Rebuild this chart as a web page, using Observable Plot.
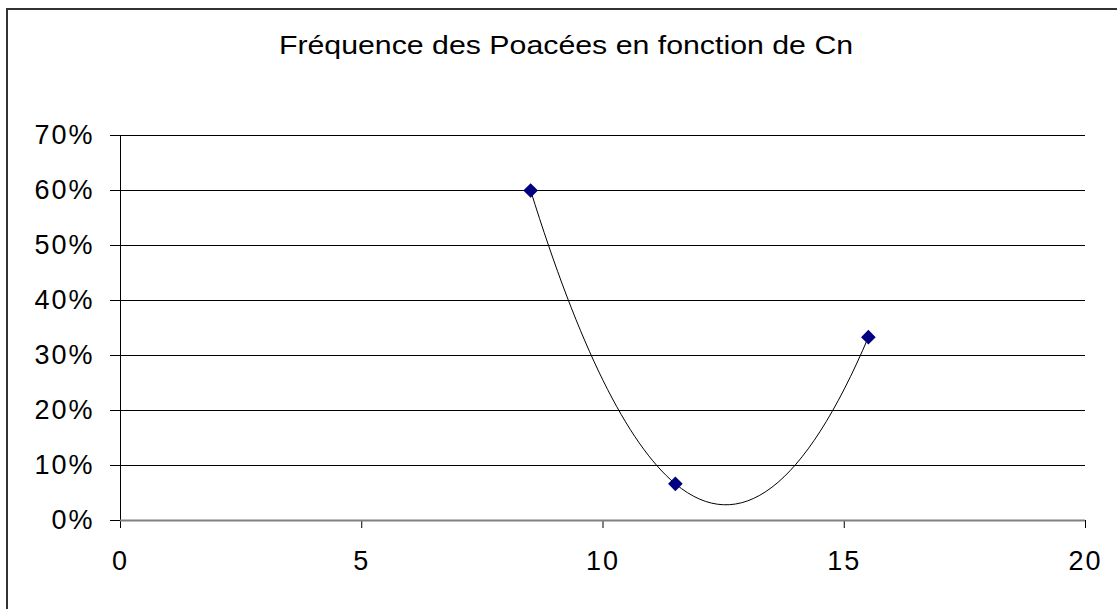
<!DOCTYPE html>
<html>
<head>
<meta charset="utf-8">
<script src="https://cdn.jsdelivr.net/npm/d3@7"></script>
<script src="https://cdn.jsdelivr.net/npm/@observablehq/plot@0.6"></script>
<style>
  html, body { margin: 0; padding: 0; background: #fff; }
  #wrap { position: relative; width: 1117px; height: 609px; overflow: hidden; font-family: "Liberation Sans", Arial, sans-serif; }
  #frame { position: absolute; left: 6px; top: 8px; width: 1120px; height: 620px; border-top: 2px solid #333; border-left: 2px solid #333; box-sizing: border-box; pointer-events: none; }
  #title { position: absolute; top: 30px; left: 566px; transform: translateX(-50%) scaleX(1.165); white-space: nowrap; font-size: 26px; color: #000; }
  #chart { position: absolute; left: 0; top: 0; }
  #chart svg text { letter-spacing: 2px; }
</style>
</head>
<body>
<div id="wrap">
  <div id="chart"></div>
  <div id="frame"></div>
  <div id="title">Fréquence des Poacées en fonction de Cn</div>
</div>
<script>
// Data
const cn = [8.5, 11.5, 15.5];
const frequence = [0.60, 0.0667, 0.3333];
const xTicks = [0, 5, 10, 15, 20];
const yTicks = [0, 0.1, 0.2, 0.3, 0.4, 0.5, 0.6, 0.7];

const points = cn.map((x, i) => ({x, y: frequence[i]}));

// Smooth curve: cubic Hermite segments using parabolic (three-point) slopes
function parabolicCurve(context) {
  let xs = [], ys = [];
  return {
    areaStart() {}, areaEnd() {},
    lineStart() { xs = []; ys = []; },
    point(x, y) { xs.push(+x); ys.push(+y); },
    lineEnd() {
      const n = xs.length;
      if (!n) return;
      context.moveTo(xs[0], ys[0]);
      if (n < 3) { for (let i = 1; i < n; i++) context.lineTo(xs[i], ys[i]); return; }
      const d = xs.map((_, i) => {
        const j = Math.min(Math.max(i - 1, 0), n - 3);
        const x0 = xs[j], x1 = xs[j + 1], x2 = xs[j + 2];
        const y0 = ys[j], y1 = ys[j + 1], y2 = ys[j + 2];
        const a = (y1 - y0) / (x1 - x0), b = (y2 - y1) / (x2 - x1), c = (b - a) / (x2 - x0);
        return a + c * ((xs[i] - x0) + (xs[i] - x1));
      });
      for (let i = 0; i < n - 1; i++) {
        const h = (xs[i + 1] - xs[i]) / 3;
        context.bezierCurveTo(xs[i] + h, ys[i] + d[i] * h, xs[i + 1] - h, ys[i + 1] - d[i + 1] * h, xs[i + 1], ys[i + 1]);
      }
    }
  };
}

const chart = Plot.plot({
  width: 1117,
  height: 609,
  marginLeft: 120,
  marginRight: 32,
  marginTop: 135,
  marginBottom: 89,
  style: { background: "transparent", fontFamily: "'Liberation Sans', Arial, sans-serif", fontSize: "27px", color: "#000" },
  x: { domain: [0, 20], ticks: xTicks, label: null },
  y: { domain: [0, 0.7], ticks: yTicks, label: null, tickFormat: d3.format(".0%") },
  marks: [
    Plot.ruleY(yTicks.filter(d => d > 0), { stroke: "#000", strokeWidth: 1 }),
    Plot.axisY({ ticks: yTicks, tickSize: 10, tickPadding: 16, tickFormat: d3.format(".0%"), stroke: "#000", label: null }),
    Plot.axisX({ ticks: xTicks, tickSize: 8, tickPadding: 22, stroke: "#000", label: null }),
    Plot.ruleX([0], { stroke: "#000", strokeWidth: 1 }),
    Plot.ruleY([0], { stroke: "#808080", strokeWidth: 2 }),
    Plot.line(points, { x: "x", y: "y", curve: parabolicCurve, stroke: "#000", strokeWidth: 1 }),
    Plot.dot(points, { x: "x", y: "y", symbol: "diamond2", r: 6.6, fill: "#000080", stroke: "none" })
  ]
});
document.getElementById("chart").appendChild(chart);
</script>
</body>
</html>
